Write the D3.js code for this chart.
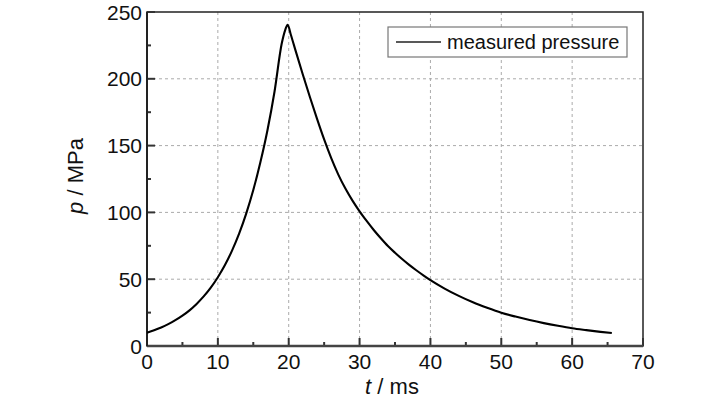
<!DOCTYPE html>
<html>
<head>
<meta charset="utf-8">
<script src="https://cdn.jsdelivr.net/npm/d3@7"></script>
<style>
  body { margin: 0; background: #fff; }
  text { font-family: "Liberation Sans", Arial, sans-serif; fill: #111; }
</style>
</head>
<body>
<div id="container"></div>
<script>
// time in ms
const times = [0, 1, 2, 3, 4, 5, 6, 7, 8, 9, 10, 11, 12, 13, 14, 15, 16, 17, 18, 19,
  19.5, 19.85, 20.3, 21, 22, 23, 24, 25, 26, 27, 28, 29, 30, 31, 32, 33, 34, 35, 36, 37, 38, 39, 40,
  42, 44, 46, 48, 50, 52, 54, 56, 58, 60, 62, 64, 65.6];
// measured pressure in MPa
const pressures = [10, 11.8, 13.9, 16.4, 19.3, 22.7, 26.7, 31.5, 37.1, 43.7, 51.5, 60.6, 71.4, 84.1, 99.1, 116.7, 137.5, 161.5, 190.5, 226,
  236.5, 240.5, 233, 220.5, 203, 186.2, 170, 154.6, 140.6, 128.3, 117.8, 108.8, 100.8, 93.6, 86.8, 80.6, 74.8, 69.8, 65.1, 60.7, 56.7, 52.9, 49.3,
  43, 37.5, 32.7, 28.6, 24.9, 22, 19.4, 17.1, 15.1, 13.3, 11.9, 10.6, 9.7];
const xTicks = [0, 10, 20, 30, 40, 50, 60, 70];
const yTicks = [0, 50, 100, 150, 200, 250];
const xMinor = [5, 15, 25, 35, 45, 55, 65];
const yMinor = [25, 75, 125, 175, 225];

const W = 728, H = 399;
const margin = { top: 12, right: 85, bottom: 53, left: 147 };
const width = W - margin.left - margin.right;
const height = H - margin.top - margin.bottom;

const svg = d3.select("#container").append("svg")
  .attr("width", W).attr("height", H);
const g = svg.append("g")
  .attr("transform", "translate(" + margin.left + "," + margin.top + ")");

const x = d3.scaleLinear().domain([0, 70]).range([0, width]);
const y = d3.scaleLinear().domain([0, 250]).range([height, 0]);

// dashed grid
g.append("g").selectAll("line").data(xTicks.slice(1, -1)).join("line")
  .attr("x1", d => x(d)).attr("x2", d => x(d))
  .attr("y1", 0).attr("y2", height)
  .attr("stroke", "#aaa").attr("stroke-width", 1).attr("stroke-dasharray", "3,3");
g.append("g").selectAll("line").data(yTicks.slice(1, -1)).join("line")
  .attr("y1", d => y(d)).attr("y2", d => y(d))
  .attr("x1", 0).attr("x2", width)
  .attr("stroke", "#aaa").attr("stroke-width", 1).attr("stroke-dasharray", "3,3");

// frame
g.append("rect").attr("width", width).attr("height", height)
  .attr("fill", "none").attr("stroke", "#222").attr("stroke-width", 1.5);

// inward ticks
const tickCol = "#333";
g.append("g").selectAll("line").data(xTicks).join("line")
  .attr("x1", d => x(d)).attr("x2", d => x(d))
  .attr("y1", height).attr("y2", height - 8)
  .attr("stroke", tickCol).attr("stroke-width", 2);
g.append("g").selectAll("line").data(xMinor).join("line")
  .attr("x1", d => x(d)).attr("x2", d => x(d))
  .attr("y1", height).attr("y2", height - 4)
  .attr("stroke", tickCol).attr("stroke-width", 2);
g.append("g").selectAll("line").data(yTicks).join("line")
  .attr("y1", d => y(d)).attr("y2", d => y(d))
  .attr("x1", 0).attr("x2", 8)
  .attr("stroke", tickCol).attr("stroke-width", 2);
g.append("g").selectAll("line").data(yMinor).join("line")
  .attr("y1", d => y(d)).attr("y2", d => y(d))
  .attr("x1", 0).attr("x2", 4)
  .attr("stroke", tickCol).attr("stroke-width", 2);
// thicker bottom and left axis lines
g.append("line").attr("x1", 0).attr("x2", width).attr("y1", height).attr("y2", height)
  .attr("stroke", "#444").attr("stroke-width", 2.5);
g.append("line").attr("x1", 0).attr("x2", 0).attr("y1", 0).attr("y2", height)
  .attr("stroke", "#222").attr("stroke-width", 2);

// tick labels
g.append("g").selectAll("text").data(xTicks).join("text")
  .attr("x", d => x(d)).attr("y", height + 23)
  .attr("text-anchor", "middle").style("font-size", "21px")
  .text(d => d);
g.append("g").selectAll("text").data(yTicks).join("text")
  .attr("x", -5).attr("y", d => y(d) + 7.5)
  .attr("text-anchor", "end").style("font-size", "21px")
  .text(d => d);

// axis titles
const xt = svg.append("text")
  .attr("x", 392).attr("y", 394)
  .attr("text-anchor", "middle").style("font-size", "22px");
xt.append("tspan").style("font-style", "italic").text("t");
xt.append("tspan").text(" / ms");

const yt = svg.append("text")
  .attr("transform", "translate(83,176) rotate(-90)")
  .attr("text-anchor", "middle").style("font-size", "22px");
yt.append("tspan").style("font-style", "italic").text("p");
yt.append("tspan").text(" / MPa");

// curve
const data = times.map((t, i) => ({ t: t, p: pressures[i] }));
g.append("path").datum(data)
  .attr("fill", "none").attr("stroke", "#000").attr("stroke-width", 2.1)
  .attr("d", d3.line().x(d => x(d.t)).y(d => y(d.p)).curve(d3.curveMonotoneX));

// legend
const lg = svg.append("g").attr("transform", "translate(388,27)");
lg.append("rect").attr("width", 239).attr("height", 30)
  .attr("fill", "#fff").attr("stroke", "#777").attr("stroke-width", 1.2);
lg.append("line").attr("x1", 8).attr("x2", 53).attr("y1", 15).attr("y2", 15)
  .attr("stroke", "#222").attr("stroke-width", 1.5);
lg.append("text").attr("x", 59).attr("y", 22).style("font-size", "20px")
  .text("measured pressure");
</script>
</body>
</html>
